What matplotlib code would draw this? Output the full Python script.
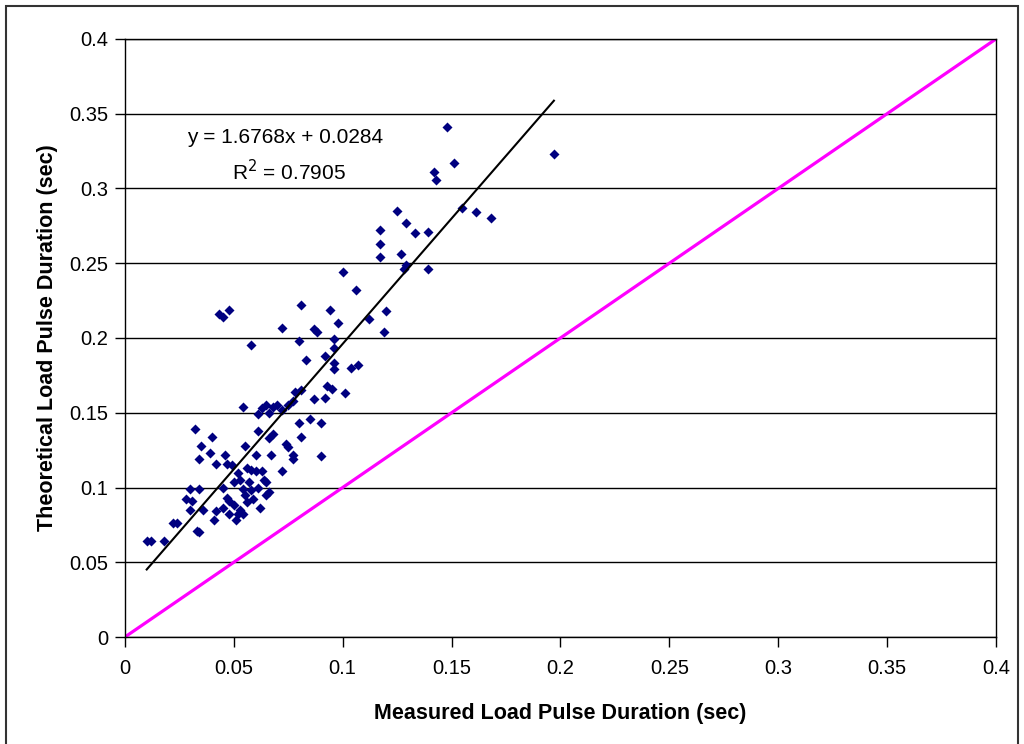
import numpy as np
import matplotlib
matplotlib.use('Agg')
import matplotlib.pyplot as plt
from matplotlib.patches import Rectangle

plt.rcParams['font.family'] = ['Liberation Sans', 'DejaVu Sans']

# measured vs theoretical load pulse duration (sec)
measured = [
    0.148, 0.197, 0.151, 0.142, 0.143, 0.125, 0.155, 0.161, 0.168, 0.129,
    0.117, 0.133, 0.139, 0.117, 0.127, 0.117, 0.128, 0.129, 0.139, 0.100,
    0.106, 0.081, 0.094, 0.120, 0.048, 0.043, 0.045, 0.112, 0.098, 0.072,
    0.087, 0.088, 0.119, 0.058, 0.080, 0.096, 0.096, 0.092, 0.083, 0.096,
    0.096, 0.107, 0.104, 0.093, 0.095, 0.078, 0.081, 0.101, 0.087, 0.092,
    0.077, 0.075, 0.070, 0.068, 0.065, 0.063, 0.072, 0.054, 0.061, 0.066,
    0.080, 0.085, 0.090, 0.032, 0.061, 0.068, 0.066, 0.081, 0.040, 0.074,
    0.075, 0.035, 0.055, 0.067, 0.060, 0.039, 0.046, 0.077, 0.077, 0.090,
    0.034, 0.042, 0.047, 0.049, 0.056, 0.058, 0.060, 0.063, 0.052, 0.072,
    0.053, 0.057, 0.064, 0.065, 0.050, 0.030, 0.034, 0.045, 0.054, 0.058,
    0.061, 0.066, 0.065, 0.055, 0.047, 0.028, 0.031, 0.048, 0.059, 0.056,
    0.050, 0.045, 0.030, 0.036, 0.042, 0.053, 0.062, 0.048, 0.052, 0.054,
    0.041, 0.051, 0.022, 0.024, 0.033, 0.034, 0.010, 0.012, 0.018,
]
theoretical = [
    0.341, 0.323, 0.317, 0.311, 0.306, 0.285, 0.287, 0.284, 0.280, 0.277,
    0.272, 0.270, 0.271, 0.263, 0.256, 0.254, 0.246, 0.249, 0.246, 0.244,
    0.232, 0.222, 0.219, 0.218, 0.219, 0.216, 0.214, 0.213, 0.210, 0.207,
    0.206, 0.204, 0.204, 0.195, 0.198, 0.199, 0.193, 0.188, 0.185, 0.183,
    0.179, 0.182, 0.180, 0.168, 0.166, 0.164, 0.165, 0.163, 0.159, 0.160,
    0.158, 0.155, 0.155, 0.154, 0.155, 0.153, 0.152, 0.154, 0.149, 0.150,
    0.143, 0.146, 0.143, 0.139, 0.138, 0.136, 0.133, 0.134, 0.134, 0.129,
    0.127, 0.128, 0.128, 0.122, 0.122, 0.123, 0.122, 0.122, 0.119, 0.121,
    0.119, 0.116, 0.116, 0.115, 0.113, 0.112, 0.111, 0.111, 0.110, 0.111,
    0.105, 0.104, 0.105, 0.104, 0.104, 0.099, 0.099, 0.100, 0.099, 0.098,
    0.100, 0.097, 0.095, 0.095, 0.093, 0.092, 0.091, 0.091, 0.092, 0.090,
    0.088, 0.086, 0.085, 0.085, 0.084, 0.085, 0.086, 0.082, 0.082, 0.082,
    0.078, 0.078, 0.076, 0.076, 0.071, 0.070, 0.064, 0.064, 0.064,
]

# linear trendline reported on the chart
slope = 1.6768
intercept = 0.0284
r_squared = 0.7905
fit_range = [0.010, 0.197]

ticks = [0, 0.05, 0.1, 0.15, 0.2, 0.25, 0.3, 0.35, 0.4]
tick_labels = ['0', '0.05', '0.1', '0.15', '0.2', '0.25', '0.3', '0.35', '0.4']

fig = plt.figure(figsize=(10.24, 7.44), dpi=100)
ax = fig.add_axes([0.122, 0.1438, 0.8506, 0.8038])

# outer frame around the whole chart
fig.patches.append(Rectangle((0.006, -0.01), 0.988, 1.002, transform=fig.transFigure,
                             fill=False, edgecolor='#333333', linewidth=1.5))

ax.set_xlim(0, 0.4)
ax.set_ylim(0, 0.4)
ax.set_xticks(ticks)
ax.set_xticklabels(tick_labels)
ax.set_yticks(ticks)
ax.set_yticklabels(tick_labels)
ax.tick_params(direction='out', length=7, width=1, labelsize=14.5, colors='black')
ax.tick_params(axis='x', pad=9)
ax.tick_params(axis='y', pad=5)
ax.yaxis.grid(True, color='black', linewidth=1)
ax.set_axisbelow(True)
for s in ax.spines.values():
    s.set_linewidth(1)

# line of equality
ax.plot([0, 0.4], [0, 0.4], color='#FF00FF', linewidth=2.3, zorder=2)

ax.scatter(measured, theoretical, marker='D', s=26, color='#000080', zorder=3, linewidths=0)

fx = np.array(fit_range)
ax.plot(fx, slope * fx + intercept, color='black', linewidth=1.5, zorder=4)

ax.text(0.0735, 0.334, 'y = %.4fx + %.4f' % (slope, intercept), ha='center', va='center', fontsize=15)
ax.text(0.0755, 0.311, 'R$^2$ = %.4f' % r_squared, ha='center', va='center', fontsize=15)

ax.set_xlabel('Measured Load Pulse Duration (sec)', fontsize=15.5, fontweight='bold', labelpad=18)
ax.set_ylabel('Theoretical Load Pulse Duration (sec)', fontsize=15.5, fontweight='bold', labelpad=8)

fig.savefig('out.png', dpi=100)
